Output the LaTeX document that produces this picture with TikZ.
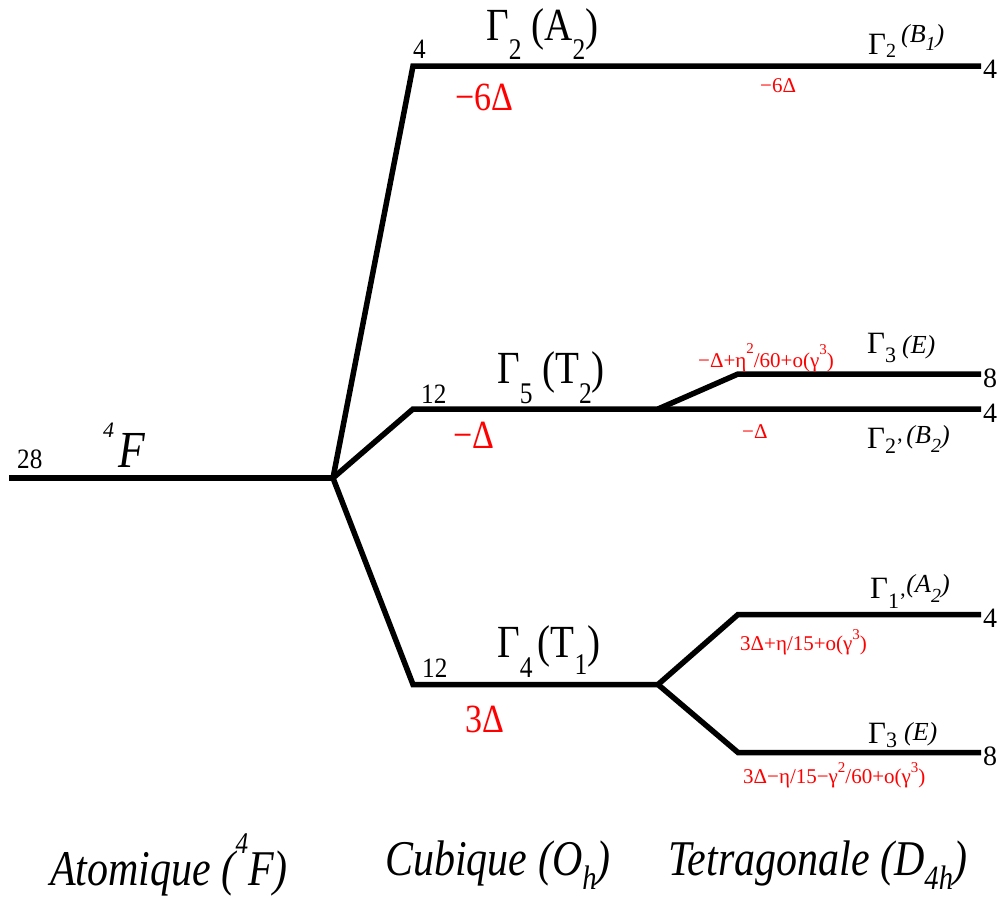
\documentclass[tikz,border=0pt]{standalone}
\usepackage{fontspec}
\setmainfont{Liberation Serif}
\newcommand\Sub[3]{\raisebox{-#2}{\fontsize{#1}{#1}\selectfont #3}}
\newcommand\Sup[3]{\raisebox{#2}{\fontsize{#1}{#1}\selectfont #3}}
\newcommand\Sq[2]{\scalebox{#1}[1]{#2}}
\newcommand\fs[1]{\fontsize{#1}{#1}\selectfont}
\begin{document}
\begin{tikzpicture}[x=1pt,y=-1pt,
  lvl/.style={line width=5.5pt},
  t/.style={inner sep=0pt, anchor=base west},
  rd/.style={t, text=red}]
\useasboundingbox (0,0) rectangle (1003,898);
% level points
\coordinate (a0) at (9,478);
\coordinate (a1) at (333,478);
\coordinate (c2) at (413,66);
\coordinate (c2e) at (981,66);
\coordinate (c5) at (413,409);
\coordinate (s5) at (658,409);
\coordinate (t5b) at (981,409);
\coordinate (t5a) at (738,374);
\coordinate (t5ae) at (981,374);
\coordinate (c4) at (413,684.5);
\coordinate (s4) at (658,684.5);
\coordinate (t4a) at (738,614.5);
\coordinate (t4ae) at (981,614.5);
\coordinate (t4b) at (738,752.5);
\coordinate (t4be) at (981,752.5);
% lines
\draw[lvl] (a0) -- (a1);
\draw[lvl] (a1) -- (c2) -- (c2e);
\draw[lvl] (a1) -- (c5) -- (s5) -- (t5b);
\draw[lvl] (s5) -- (t5a) -- (t5ae);
\draw[lvl] (a1) -- (c4) -- (s4);
\draw[lvl] (s4) -- (t4a) -- (t4ae);
\draw[lvl] (s4) -- (t4b) -- (t4be);
% atomic
\node[t] (n28) at (17,468) {\Sq{0.9}{\fs{28pt}28}};
\node[t] (fsup) at (103,437) {\fs{22pt}\itshape 4};
\node[t] (fF) at (118,467) {\Sq{0.84}{\fs{52pt}\itshape F}};
% cubic labels
\node[t] (n4c) at (413,58) {\Sq{0.9}{\fs{28pt}4}};
\node[t] (g2) at (486,40) {\Sq{0.85}{\fs{46pt}Γ\Sub{30pt}{19pt}{2} (A\Sub{30pt}{19pt}{2})}};
\node[rd] (e2) at (455,110) {\Sq{0.85}{\fs{40pt}−6Δ}};
\node[t] (n12a) at (421,403) {\Sq{0.9}{\fs{28pt}12}};
\node[t] (g5) at (497,383) {\Sq{0.85}{\fs{46pt}Γ\Sub{30pt}{20pt}{5} (T\Sub{30pt}{20pt}{2})}};
\node[rd] (e5) at (453,448) {\Sq{0.85}{\fs{40pt}−Δ}};
\node[t] (n12b) at (422,677) {\Sq{0.9}{\fs{28pt}12}};
\node[t] (g4) at (497,657) {\Sq{0.85}{\fs{46pt}Γ\Sub{30pt}{20pt}{4}\hspace{6pt}(T\Sub{30pt}{17pt}{1})}};
\node[rd] (e4) at (465,732) {\Sq{0.85}{\fs{40pt}3Δ}};
% tetragonal labels
\node[t] (r1) at (868,54) {\fs{31pt}Γ\Sub{20pt}{3pt}{2}\hspace{5pt}\raisebox{12pt}{\fs{26pt}\itshape (B\Sub{20pt}{8pt}{1})}};
\node[rd] (q1) at (760,92) {\fs{21pt}−6Δ};
\node[t] (m1) at (983,78) {\fs{28pt}4};
\node[t] (r2) at (867,353) {\fs{31pt}Γ\Sub{22pt}{9pt}{3}\hspace{6pt}{\fs{26pt}\itshape (E)}};
\node[rd] (q2) at (698,367) {\fs{21pt}−Δ+η\Sup{15pt}{14pt}{2}/60+o(γ\Sup{15pt}{13pt}{3})};
\node[t] (m2) at (983,387) {\fs{28pt}8};
\node[t] (m3) at (983,422) {\fs{28pt}4};
\node[rd] (q3) at (742,438) {\fs{21pt}−Δ};
\node[t] (r3) at (867,448) {\fs{31pt}Γ\Sub{22pt}{5pt}{2’}\hspace{3pt}\raisebox{5pt}{\fs{26pt}\itshape (B\Sub{20pt}{9pt}{2})}};
\node[t] (r4) at (870,598) {\fs{31pt}Γ\Sub{22pt}{10pt}{1’}\raisebox{6pt}{\fs{26pt}\itshape (A\Sub{20pt}{10pt}{2})}};
\node[t] (m4) at (983,627) {\fs{28pt}4};
\node[rd] (q4) at (740,650) {\fs{21pt}3Δ+η/15+o(γ\Sup{15pt}{11pt}{3})};
\node[t] (r5) at (868,743) {\fs{31pt}Γ\Sub{22pt}{4pt}{3}\hspace{7pt}\raisebox{3pt}{\fs{26pt}\itshape (E)}};
\node[t] (m5) at (983,765) {\fs{28pt}8};
\node[rd] (q5) at (743,783) {\fs{21pt}3Δ−η/15−γ\Sup{15pt}{11pt}{2}/60+o(γ\Sup{15pt}{11pt}{3})};
% bottom captions
\node[t] (capA) at (50,885) {\Sq{0.84}{\fs{50pt}\itshape Atomique (\Sup{30pt}{32pt}{4}F)}};
\node[t] (capC) at (385,875) {\Sq{0.84}{\fs{50pt}\itshape Cubique (O\Sub{34pt}{14pt}{h})}};
\node[t] (capT) at (668,875) {\Sq{0.84}{\fs{50pt}\itshape Tetragonale (D\Sub{34pt}{14pt}{4h})}};
\end{tikzpicture}
\end{document}
